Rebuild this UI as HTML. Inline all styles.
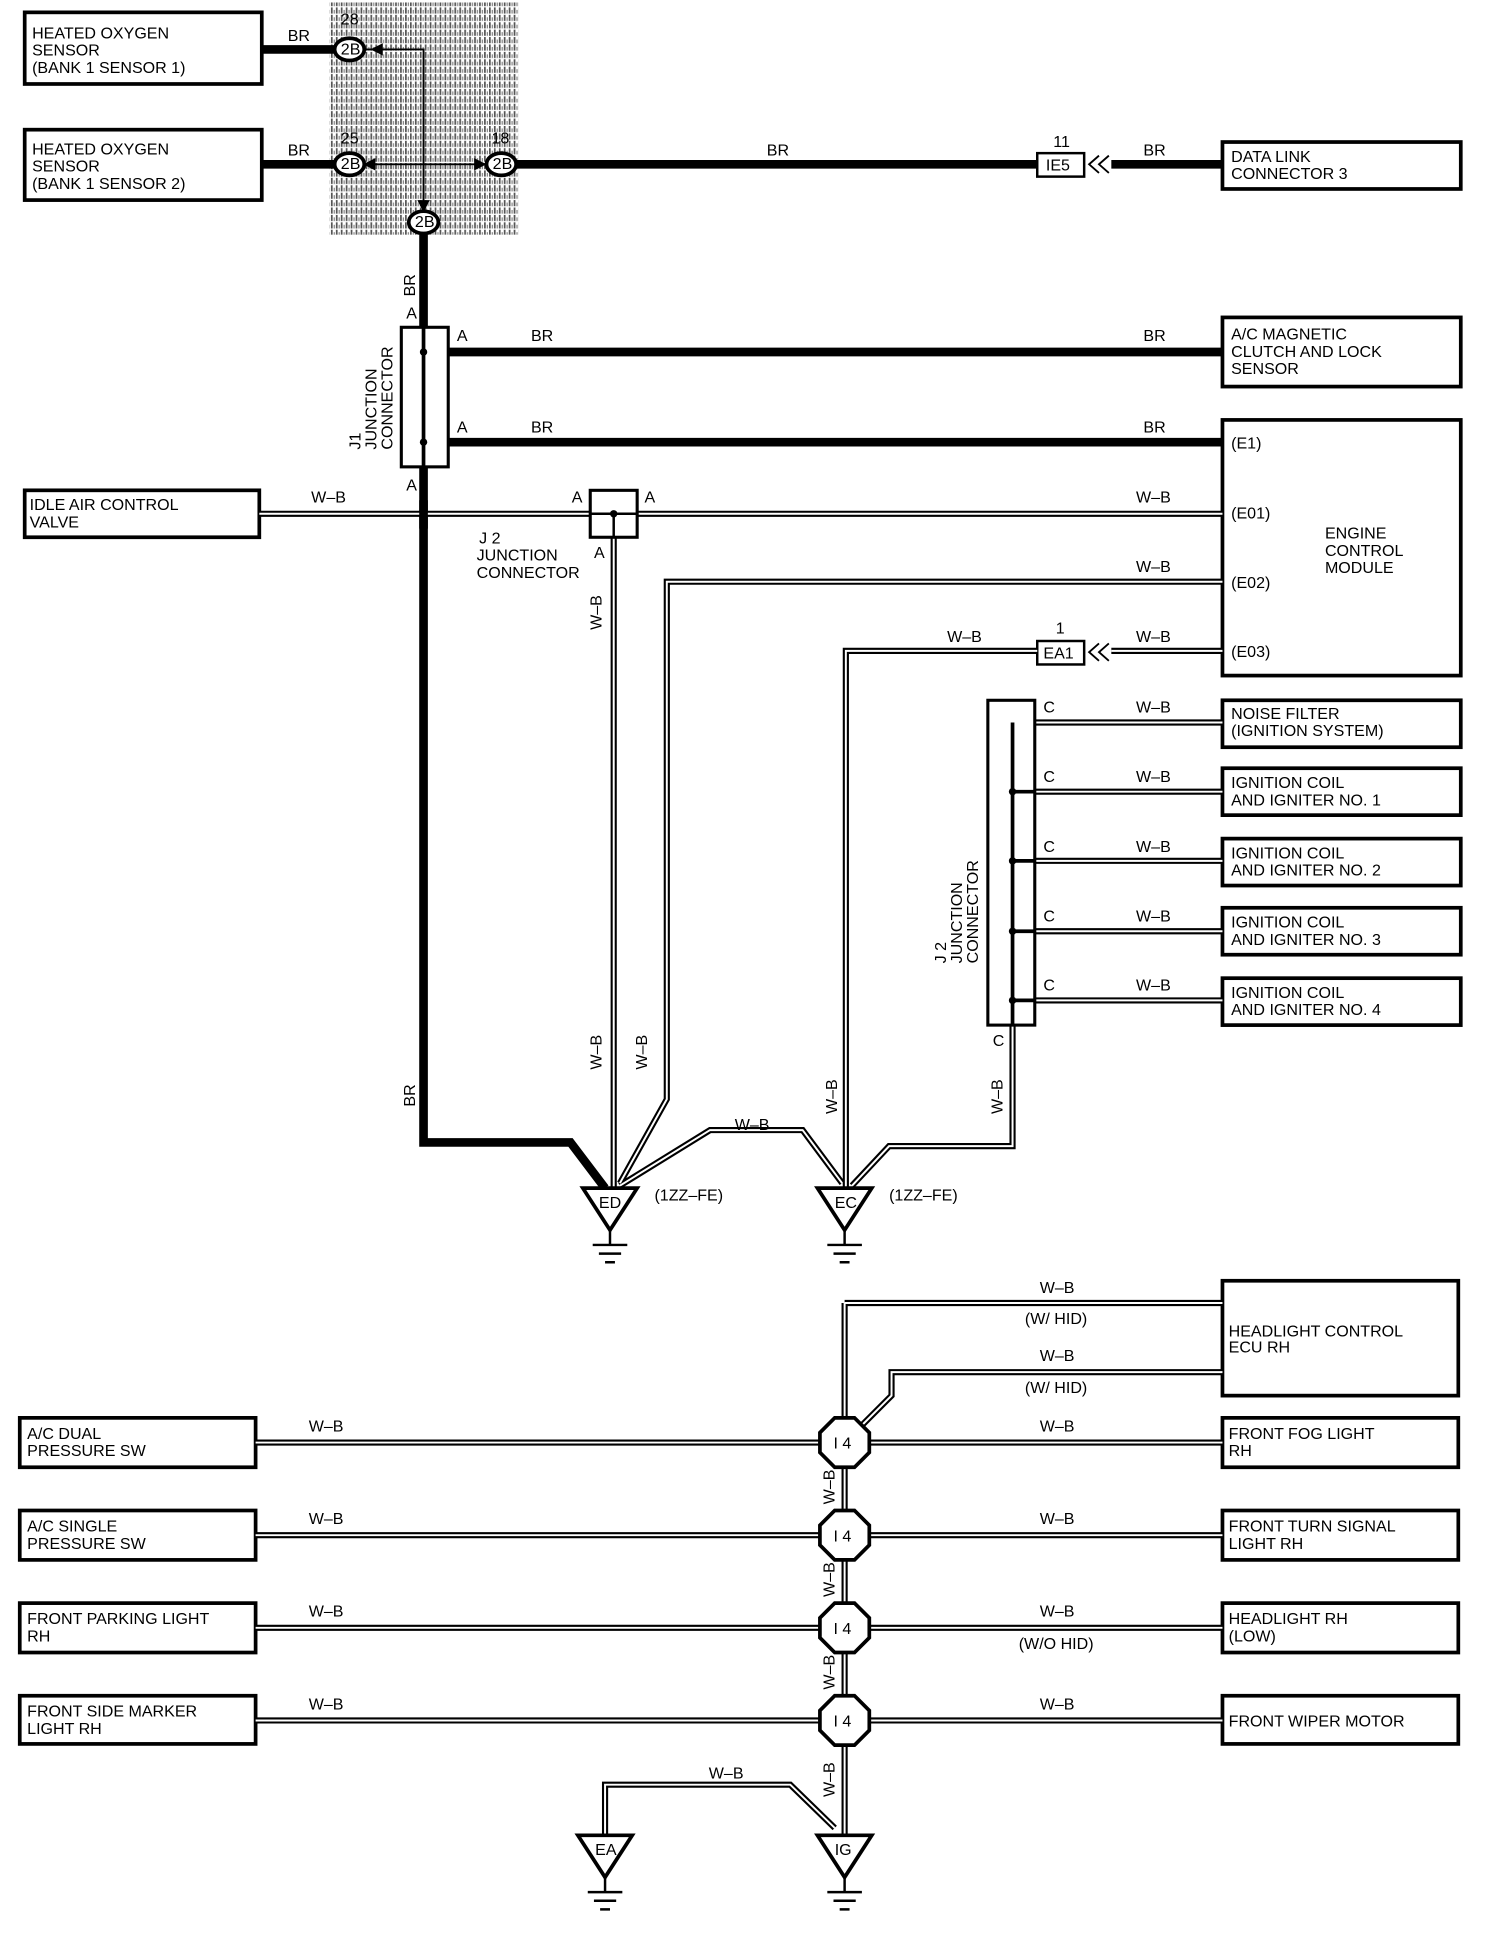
<!DOCTYPE html>
<html><head><meta charset="utf-8"><style>
html,body{margin:0;padding:0;background:#fff}
svg{display:block}
text{font-family:"Liberation Sans",sans-serif;font-size:13px;fill:#000}
.b{fill:none;stroke:#000;stroke-width:3}
.br{fill:none;stroke:#000;stroke-width:7}
.wo{fill:none;stroke:#000;stroke-width:5}
.wi{fill:none;stroke:#fff;stroke-width:1.6}
.t{fill:none;stroke:#000;stroke-width:1.5}
</style></head><body>
<svg width="1504" height="1944" viewBox="0 0 1218 1574" preserveAspectRatio="none" xmlns="http://www.w3.org/2000/svg">
<defs>
<pattern id="st" width="4" height="6" patternUnits="userSpaceOnUse"><rect width="4" height="6" fill="#fff"/><rect x="0" y="0" width="1.4" height="5" fill="#555"/><rect x="2.2" y="2" width="1" height="3" fill="#888"/></pattern>
<g id="wb"><path/></g>
</defs>
<rect x="267" y="2" width="153" height="188" fill="url(#st)"/>

<!-- boxes -->
<g class="b">
<rect x="20" y="10" width="192" height="58"/>
<rect x="20" y="105" width="192" height="57"/>
<rect x="990" y="115" width="193" height="38"/>
<rect x="990" y="257" width="193" height="56"/>
<rect x="990" y="340" width="193" height="207"/>
<rect x="20" y="397" width="190" height="38"/>
<rect x="990" y="567" width="193" height="38"/>
<rect x="990" y="622" width="193" height="38"/>
<rect x="990" y="679" width="193" height="38"/>
<rect x="990" y="735" width="193" height="38"/>
<rect x="990" y="792" width="193" height="38"/>
<rect x="990" y="1037" width="191" height="93"/>
<rect x="16" y="1148" width="191" height="40"/><rect x="16" y="1223" width="191" height="40"/>
<rect x="16" y="1298" width="191" height="40"/><rect x="16" y="1373" width="191" height="39"/>
<rect x="990" y="1148" width="191" height="40"/><rect x="990" y="1223" width="191" height="40"/>
<rect x="990" y="1298" width="191" height="40"/><rect x="990" y="1373" width="191" height="39"/>
</g>

<!-- BR wires -->
<g class="br">
<path d="M212 40H272M212 133H272M418 133H842M900 133H990"/>
<path d="M343 190V925H462L490 962"/>
<path d="M363 285H990M363 358H990"/>
</g>
<g class="t">
<path d="M296 40H343V170M294 133H394"/>
</g>
<path d="M300 40l10-5v10z M294 133l10-5v10z M394 133l-10-5v10z M343 172l-5-10h10z"/>
<g fill="#fff" stroke="#000" stroke-width="3">
<ellipse cx="283" cy="40" rx="12" ry="9"/><ellipse cx="283" cy="133" rx="12" ry="9"/>
<ellipse cx="406" cy="133" rx="12" ry="9"/><ellipse cx="343" cy="180" rx="12" ry="9"/>
</g>
<rect x="840" y="124" width="38" height="19" fill="#fff" stroke="#000" stroke-width="2"/>
<rect x="840" y="519" width="38" height="19" fill="#fff" stroke="#000" stroke-width="2"/>
<g class="t" stroke-width="2"><path d="M890 126l-8 7 8 7M898 126l-8 7 8 7M890 521l-8 7 8 7M898 521l-8 7 8 7"/></g>

<!-- J1 -->
<rect x="325" y="265" width="38" height="113" fill="#fff" stroke="#000" stroke-width="2.5"/>
<path d="M343 265V378" stroke="#000" stroke-width="3"/>
<circle cx="343" cy="285" r="3"/><circle cx="343" cy="358" r="3"/>

<!-- W-B double wires -->
<g id="wbo" class="wo">
<path d="M210 416H990M497 416V962M990 471H540V890L502 958M990 527H900M840 527H685V962M820 830V928H720L690 960M502 960L575 915H650L682 958"/>
<path d="M838 585H990M820 641H990M820 697H990M820 754H990M820 810H990"/>
<path d="M684 1055H990M990 1111H722V1130L697 1155M684 1055V1488M207 1168H990M207 1243H990M207 1318H990M207 1393H990M490 1488V1445H640L676 1480"/>
</g>
<g class="wi">
<path d="M210 416H990M497 416V962M990 471H540V890L502 958M990 527H900M840 527H685V962M820 830V928H720L690 960M502 960L575 915H650L682 958"/>
<path d="M838 585H990M820 641H990M820 697H990M820 754H990M820 810H990"/>
<path d="M684 1055H990M990 1111H722V1130L697 1155M684 1055V1488M207 1168H990M207 1243H990M207 1318H990M207 1393H990M490 1488V1445H640L676 1480"/>
</g>
<path d="M343 405V428" stroke="#000" stroke-width="7"/>
<rect x="478" y="397" width="38" height="38" fill="#fff" stroke="#000" stroke-width="2.5"/>
<path d="M478 416H516M497 416V435" stroke="#000" stroke-width="2"/><circle cx="497" cy="416" r="3"/>

<!-- J2 lower -->
<rect x="800" y="567" width="38" height="263" fill="#fff" stroke="#000" stroke-width="2.5"/>
<path d="M820 585V830M820 641H838M820 697H838M820 754H838M820 810H838" stroke="#000" stroke-width="3"/>
<g><circle cx="820" cy="641" r="3"/><circle cx="820" cy="697" r="3"/><circle cx="820" cy="754" r="3"/><circle cx="820" cy="810" r="3"/></g>

<!-- grounds -->
<g fill="#fff" stroke="#000" stroke-width="3">
<path d="M472 962H516L494 996Z"/><path d="M662 962H706L684 996Z"/>
<path d="M468 1486H512L490 1520Z"/><path d="M662 1486H706L684 1520Z"/>
</g>
<g stroke="#000" stroke-width="2">
<path d="M494 996V1008M480 1008H508M485 1015H503M490 1022H498"/>
<path d="M684 996V1008M670 1008H698M675 1015H693M680 1022H688"/>
<path d="M490 1520V1532M476 1532H504M481 1539H499M486 1546H494"/>
<path d="M684 1520V1532M670 1532H698M675 1539H693M680 1546H688"/>
</g>

<!-- octagons -->
<g fill="#fff" stroke="#000" stroke-width="3">
<polygon points="676,1148 692,1148 704,1160 704,1176 692,1188 676,1188 664,1176 664,1160"/>
<polygon points="676,1223 692,1223 704,1235 704,1251 692,1263 676,1263 664,1251 664,1235"/>
<polygon points="676,1298 692,1298 704,1310 704,1326 692,1338 676,1338 664,1326 664,1310"/>
<polygon points="676,1373 692,1373 704,1385 704,1401 692,1413 676,1413 664,1401 664,1385"/>
</g>

<!-- text -->
<g>
<text x="26" y="31">HEATED OXYGEN</text><text x="26" y="45">SENSOR</text><text x="26" y="59">(BANK 1 SENSOR 1)</text>
<text x="26" y="125">HEATED OXYGEN</text><text x="26" y="139">SENSOR</text><text x="26" y="153">(BANK 1 SENSOR 2)</text>
<text x="233" y="33">BR</text><text x="233" y="126">BR</text>
<text x="276" y="20" font-size="11">28</text><text x="276" y="116" font-size="11">25</text><text x="398" y="116" font-size="11">18</text>
<text x="276" y="44" font-size="9">2B</text><text x="276" y="137" font-size="9">2B</text><text x="399" y="137" font-size="9">2B</text><text x="336" y="184" font-size="9">2B</text>
<text x="621" y="126">BR</text><text x="926" y="126">BR</text><text x="853" y="119">11</text>
<text x="847" y="138" font-size="12">IE5</text>
<text x="997" y="131">DATA LINK</text><text x="997" y="145">CONNECTOR 3</text>
<text transform="translate(336,240) rotate(-90)">BR</text>
<text x="329" y="258">A</text><text x="370" y="276">A</text><text x="370" y="350">A</text><text x="329" y="397">A</text>
<text x="430" y="276">BR</text><text x="430" y="350">BR</text><text x="926" y="276">BR</text><text x="926" y="350">BR</text>
<text transform="translate(292,364) rotate(-90)">J1</text><text transform="translate(305,364) rotate(-90)">JUNCTION</text><text transform="translate(318,364) rotate(-90)">CONNECTOR</text>
<text x="997" y="275">A/C MAGNETIC</text><text x="997" y="289">CLUTCH AND LOCK</text><text x="997" y="303">SENSOR</text>
<text x="997" y="363">(E1)</text><text x="997" y="420">(E01)</text><text x="997" y="476">(E02)</text><text x="997" y="532">(E03)</text>
<text x="1073" y="436">ENGINE</text><text x="1073" y="450">CONTROL</text><text x="1073" y="464">MODULE</text>
<text x="24" y="413">IDLE AIR CONTROL</text><text x="24" y="427">VALVE</text>
<text x="252" y="407">W–B</text><text x="920" y="407">W–B</text><text x="920" y="463">W–B</text><text x="920" y="520">W–B</text><text x="767" y="520">W–B</text>
<text x="463" y="407">A</text><text x="522" y="407">A</text><text x="481" y="452">A</text>
<text x="388" y="440">J 2</text><text x="386" y="454">JUNCTION</text><text x="386" y="468">CONNECTOR</text>
<text transform="translate(487,510) rotate(-90)">W–B</text>
<text transform="translate(487,866) rotate(-90)">W–B</text><text transform="translate(524,866) rotate(-90)">W–B</text>
<text transform="translate(678,902) rotate(-90)">W–B</text><text transform="translate(812,902) rotate(-90)">W–B</text>
<text transform="translate(336,896) rotate(-90)">BR</text>
<text x="855" y="513">1</text><text x="845" y="533" font-size="12">EA1</text>
<text x="845" y="577">C</text><text x="845" y="633">C</text><text x="845" y="690">C</text><text x="845" y="746">C</text><text x="845" y="802">C</text><text x="804" y="847">C</text>
<text x="920" y="577">W–B</text><text x="920" y="633">W–B</text><text x="920" y="690">W–B</text><text x="920" y="746">W–B</text><text x="920" y="802">W–B</text>
<text transform="translate(766,780) rotate(-90)">J 2</text><text transform="translate(779,780) rotate(-90)">JUNCTION</text><text transform="translate(792,780) rotate(-90)">CONNECTOR</text>
<text x="997" y="582">NOISE FILTER</text><text x="997" y="596">(IGNITION SYSTEM)</text>
<text x="997" y="638">IGNITION COIL</text><text x="997" y="652">AND IGNITER NO. 1</text>
<text x="997" y="695">IGNITION COIL</text><text x="997" y="709">AND IGNITER NO. 2</text>
<text x="997" y="751">IGNITION COIL</text><text x="997" y="765">AND IGNITER NO. 3</text>
<text x="997" y="808">IGNITION COIL</text><text x="997" y="822">AND IGNITER NO. 4</text>
<text x="595" y="915">W–B</text>
<text x="485" y="978">ED</text><text x="676" y="978">EC</text>
<text x="530" y="972">(1ZZ–FE)</text><text x="720" y="972">(1ZZ–FE)</text>
<text x="842" y="1047">W–B</text><text x="830" y="1072">(W/ HID)</text>
<text x="842" y="1102">W–B</text><text x="830" y="1128">(W/ HID)</text>
<text x="995" y="1082">HEADLIGHT CONTROL</text><text x="995" y="1095">ECU RH</text>
<text x="22" y="1165">A/C DUAL</text><text x="22" y="1179">PRESSURE SW</text>
<text x="22" y="1240">A/C SINGLE</text><text x="22" y="1254">PRESSURE SW</text>
<text x="22" y="1315">FRONT PARKING LIGHT</text><text x="22" y="1329">RH</text>
<text x="22" y="1390">FRONT SIDE MARKER</text><text x="22" y="1404">LIGHT RH</text>
<text x="250" y="1159">W–B</text><text x="250" y="1234">W–B</text><text x="250" y="1309">W–B</text><text x="250" y="1384">W–B</text>
<text x="842" y="1159">W–B</text><text x="842" y="1234">W–B</text><text x="842" y="1309">W–B</text><text x="842" y="1384">W–B</text>
<text x="825" y="1335">(W/O HID)</text>
<text x="995" y="1165">FRONT FOG LIGHT</text><text x="995" y="1179">RH</text>
<text x="995" y="1240">FRONT TURN SIGNAL</text><text x="995" y="1254">LIGHT RH</text>
<text x="995" y="1315">HEADLIGHT RH</text><text x="995" y="1329">(LOW)</text>
<text x="995" y="1398">FRONT WIPER MOTOR</text>
<text x="675" y="1173">I 4</text><text x="675" y="1248">I 4</text><text x="675" y="1323">I 4</text><text x="675" y="1398">I 4</text>
<text transform="translate(676,1218) rotate(-90)">W–B</text><text transform="translate(676,1293) rotate(-90)">W–B</text>
<text transform="translate(676,1368) rotate(-90)">W–B</text><text transform="translate(676,1455) rotate(-90)">W–B</text>
<text x="574" y="1440">W–B</text>
<text x="482" y="1502">EA</text><text x="676" y="1502">IG</text>
</g>
</svg>
</body></html>
